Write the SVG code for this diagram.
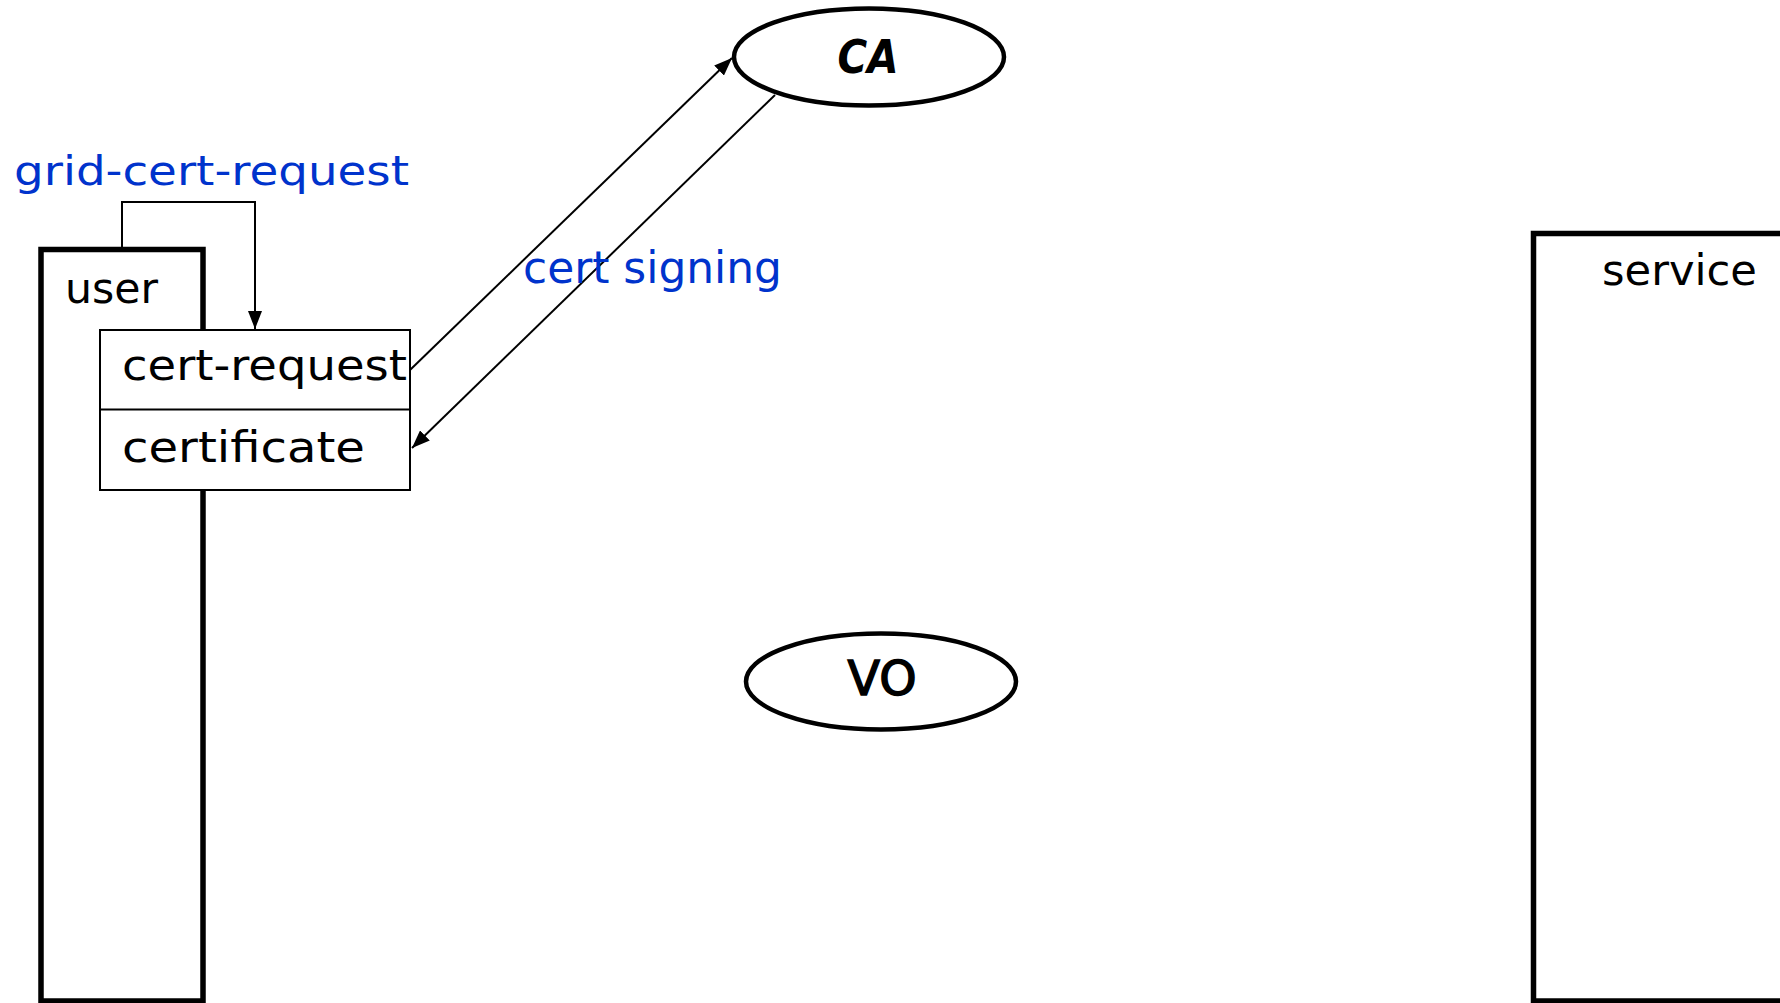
<svg xmlns="http://www.w3.org/2000/svg" width="1780" height="1003" viewBox="0 0 1780 1003">
<style>
.thick{fill:#fff;stroke:#000;stroke-width:5.5}
.thin{fill:#fff;stroke:#000;stroke-width:2}
.conn{fill:none;stroke:#000;stroke-width:2}
.t{font-family:"DejaVu Sans","Liberation Sans",sans-serif;font-size:42px;fill:#000}
.blue{fill:#0033cc}
</style>
<defs>
<marker id="arr" markerUnits="userSpaceOnUse" markerWidth="20" markerHeight="14" refX="18" refY="7" orient="auto">
<path d="M0,0 L18,7 L0,14 Z" fill="#000"/>
</marker>
</defs>
<rect width="1780" height="1003" fill="#fff"/>
<g id="user">
<rect class="thick" x="41" y="249.5" width="162" height="751.5"/>
<text class="t" x="65" y="303" textLength="93" lengthAdjust="spacingAndGlyphs">user</text>
</g>
<g id="store">
<rect class="thin" x="100" y="330" width="310" height="160"/>
<line class="thin" x1="100" y1="409.5" x2="410" y2="409.5"/>
<text class="t" x="122" y="380" textLength="285" lengthAdjust="spacingAndGlyphs">cert-request</text>
<text class="t" x="122" y="462" textLength="243" lengthAdjust="spacingAndGlyphs">certificate</text>
</g>
<g id="CA">
<ellipse class="thick" cx="869" cy="57" rx="135" ry="48.5" style="stroke-width:4.5"/>
<text x="868" y="73" text-anchor="middle" textLength="61" lengthAdjust="spacingAndGlyphs" style="font-family:'DejaVu Sans',sans-serif;font-size:46px;font-weight:bold;font-style:italic">CA</text>
</g>
<g id="VO">
<ellipse class="thick" cx="881" cy="681.5" rx="135" ry="48" style="stroke-width:4.5"/>
<text x="882" y="695" text-anchor="middle" textLength="69" lengthAdjust="spacingAndGlyphs" style="font-family:'DejaVu Sans',sans-serif;font-size:48px;stroke:#000;stroke-width:1.5">VO</text>
</g>
<g id="service">
<rect class="thick" x="1533.5" y="233.5" width="400" height="767.5"/>
<text class="t" x="1602" y="285" textLength="155" lengthAdjust="spacingAndGlyphs">service</text>
</g>
<g id="connectors">
<path class="conn" d="M122,247 V202 H255 V329" marker-end="url(#arr)"/>
<line class="conn" x1="410" y1="370" x2="732" y2="58" marker-end="url(#arr)"/>
<line class="conn" x1="775" y1="95" x2="412" y2="448" marker-end="url(#arr)"/>
</g>
<g id="labels">
<text class="t blue" x="14" y="185" style="font-size:40px" textLength="395" lengthAdjust="spacingAndGlyphs">grid-cert-request</text>
<text class="t blue" x="523" y="283" style="font-size:44px" textLength="259" lengthAdjust="spacingAndGlyphs">cert signing</text>
</g>
</svg>
